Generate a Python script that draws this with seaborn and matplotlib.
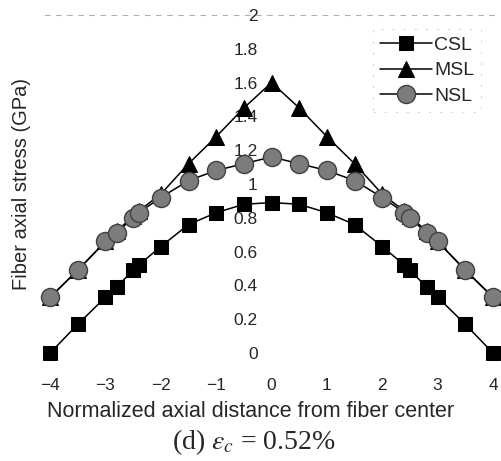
import pandas as pd
import matplotlib
matplotlib.use("Agg")
import matplotlib.pyplot as plt
import seaborn as sns

# positions along the fiber (normalized) and stresses in GPa
x_pos = [-4, -3.5, -3, -2.8, -2.5, -2.4, -2, -1.5, -1, -0.5, 0,
         0.5, 1, 1.5, 2, 2.4, 2.5, 2.8, 3, 3.5, 4]
csl = [0.0, 0.17, 0.33, 0.39, 0.49, 0.52, 0.63, 0.76, 0.83, 0.88, 0.89,
       0.88, 0.83, 0.76, 0.63, 0.52, 0.49, 0.39, 0.33, 0.17, 0.0]
msl = [0.33, 0.49, 0.66, 0.72, 0.81, 0.84, 0.94, 1.12, 1.28, 1.45, 1.60,
       1.45, 1.28, 1.12, 0.94, 0.84, 0.81, 0.72, 0.66, 0.49, 0.33]
nsl = [0.33, 0.49, 0.66, 0.71, 0.80, 0.83, 0.92, 1.02, 1.08, 1.12, 1.16,
       1.12, 1.08, 1.02, 0.92, 0.83, 0.80, 0.71, 0.66, 0.49, 0.33]
series_names = ["CSL", "MSL", "NSL"]
x_ticks = [-4, -3, -2, -1, 0, 1, 2, 3, 4]
x_labels = ["\u22124", "\u22123", "\u22122", "\u22121", "0", "1", "2", "3", "4"]
y_ticks = [0, 0.2, 0.4, 0.6, 0.8, 1, 1.2, 1.4, 1.6, 1.8, 2]
y_labels = ["0", "0.2", "0.4", "0.6", "0.8", "1", "1.2", "1.4", "1.6", "1.8", "2"]

sns.set_style("white")
plt.rcParams["font.family"] = ["Liberation Sans", "DejaVu Sans"]
plt.rcParams["mathtext.fontset"] = "stix"

df = pd.DataFrame({"x": x_pos, "CSL": csl, "MSL": msl, "NSL": nsl})

fig = plt.figure(figsize=(5.01, 4.61), dpi=100)
ax = fig.add_axes([0.089, 0.2343, 0.906, 0.7332])

styles = {
    "CSL": dict(marker="s", markersize=9.5, markerfacecolor="black", markeredgecolor="black"),
    "MSL": dict(marker="^", markersize=12, markerfacecolor="black", markeredgecolor="black"),
    "NSL": dict(marker="o", markersize=13, markerfacecolor="#7c7c7c", markeredgecolor="#404040",
                markeredgewidth=1.0),
}
for z, name in enumerate(series_names):
    sns.lineplot(data=df, x="x", y=name, ax=ax, color="black", linewidth=1.1,
                 label=name, clip_on=False, zorder=3 + z, **styles[name])

ax.set_xlim(-4.1, 4.1)
ax.set_ylim(0, 2)
ax.set_xticks(x_ticks)
ax.set_xticklabels(x_labels)
ax.set_yticks(y_ticks)
ax.set_yticklabels(y_labels)

for s in ["right", "bottom"]:
    ax.spines[s].set_visible(False)
ax.spines["left"].set_position(("data", 0))
ax.spines["left"].set_visible(False)
ax.spines["top"].set_linestyle((0, (4, 6)))
ax.spines["top"].set_color("#b0b0b0")
ax.spines["top"].set_linewidth(0.8)

ax.tick_params(axis="y", direction="in", length=3, width=0.8, color="#777777",
               labelsize=12.5, pad=10)
ax.tick_params(axis="x", direction="in", length=1.5, width=1.2, color="#555555",
               labelsize=12.5, pad=18)

ax.set_xlabel("Normalized axial distance from fiber center", fontsize=15.5)
ax.xaxis.set_label_coords(0.453, -0.142)
ax.set_ylabel("Fiber axial stress (GPa)", fontsize=14.5)
ax.yaxis.set_label_coords(-0.03, 0.5)

leg = ax.legend(loc="upper right", bbox_to_anchor=(0.962, 0.958), fontsize=14,
                frameon=True, fancybox=False, handlelength=2.7, handletextpad=0.1,
                borderpad=0.35, labelspacing=0.42, borderaxespad=0.0)
leg.get_frame().set_edgecolor("#cccccc")
leg.get_frame().set_linestyle((0, (2, 8)))
leg.get_frame().set_linewidth(0.8)

fig.text(0.507, 0.041, r"(d) $\varepsilon_c$ = 0.52%", ha="center", va="center",
         fontsize=20, family=["Liberation Serif", "DejaVu Serif"])

fig.savefig("out.png", dpi=100)
